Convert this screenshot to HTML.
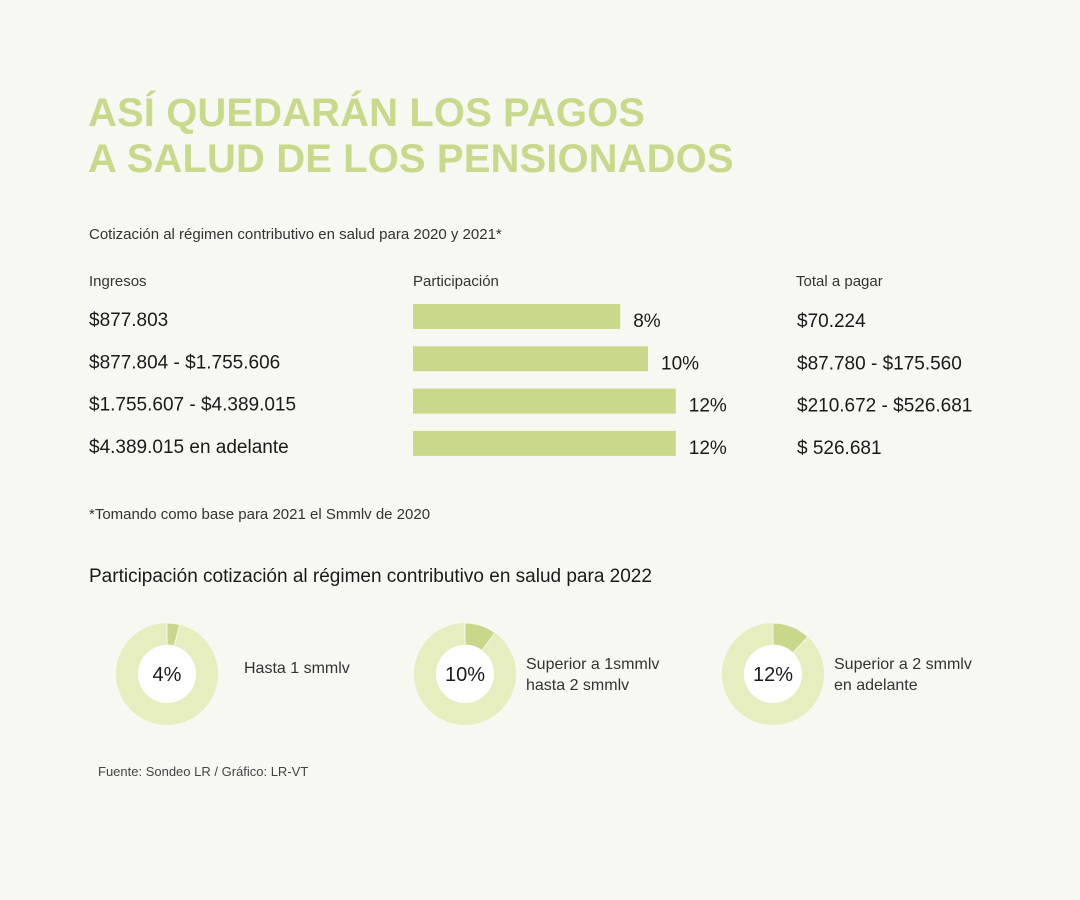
<!DOCTYPE html>
<html><head><meta charset="utf-8"><style>
body{margin:0;background:#f7f8f1;font-family:"Liberation Sans",sans-serif;}
#root{position:relative;width:1080px;height:900px;overflow:hidden;}
.t{position:absolute;white-space:nowrap;color:#1a1a1a;}
</style></head><body><div id="root">
<div class="t" style="left:88px;top:90px;font-size:40px;font-weight:bold;color:#c8d98c;line-height:46px;letter-spacing:0.1px">ASÍ QUEDARÁN LOS PAGOS<br>A SALUD DE LOS PENSIONADOS</div>
<div class="t" style="left:89px;top:226px;font-size:15px;color:#333">Cotización al régimen contributivo en salud para 2020 y 2021*</div>
<div class="t" style="left:89px;top:273px;font-size:15px;color:#333">Ingresos</div>
<div class="t" style="left:413px;top:273px;font-size:15px;color:#333">Participación</div>
<div class="t" style="left:796px;top:273px;font-size:15px;color:#333">Total a pagar</div>
<svg id="bars" width="1080" height="900" style="position:absolute;left:0;top:0"></svg>
<div class="t" style="left:89px;top:506px;font-size:15px;color:#333">*Tomando como base para 2021 el Smmlv de 2020</div>
<div class="t" style="left:89px;top:566px;font-size:19px;color:#1a1a1a">Participación cotización al régimen contributivo en salud para 2022</div>
<svg id="donuts" width="1080" height="900" style="position:absolute;left:0;top:0"></svg>
<div class="t" style="left:98px;top:764px;font-size:13px;color:#444">Fuente: Sondeo LR / Gráfico: LR-VT</div>
</div>
<script>
const incomes=["$877.803","$877.804 - $1.755.606","$1.755.607 - $4.389.015","$4.389.015 en adelante"];
const rates=[8,10,12,12];
const totals=["$70.224","$87.780 - $175.560","$210.672 - $526.681","$ 526.681"];
const donutValues=[4,10,12];
const donutLabels=[["Hasta 1 smmlv"],["Superior a 1smmlv","hasta 2 smmlv"],["Superior a 2 smmlv","en adelante"]];
const NS="http://www.w3.org/2000/svg";
function mk(p,tag,a){const e=document.createElementNS(NS,tag);for(const k in a)e.setAttribute(k,a[k]);p.appendChild(e);return e;}
const bx0=413;
function bw(v){return 96+13.9*v;}
function rowY(i){return 304+i*42.3;}
const bars=document.getElementById('bars');
rates.forEach((v,i)=>{
  const y=rowY(i);
  const r=mk(bars,'rect',{x:bx0,y:y,width:bw(v),height:25,fill:'#cad88c'});
  
  
  const t=mk(bars,'text',{x:bx0+bw(v)+13,y:y+23,'font-size':19,fill:'#1a1a1a','font-family':'Liberation Sans'});
  t.textContent=v+'%';
  
  
  const a=mk(bars,'text',{x:89,y:y+22,'font-size':19,fill:'#1a1a1a','font-family':'Liberation Sans'});
  a.textContent=incomes[i];
  
  
  const b=mk(bars,'text',{x:797,y:y+23,'font-size':19,fill:'#1a1a1a','font-family':'Liberation Sans'});
  b.textContent=totals[i];
  
  
});
const dn=document.getElementById('donuts');
const cx=[167,465,773],cy=674,R=51,r0=29;
donutValues.forEach((v,i)=>{
  const c=cx[i];
  const ring=mk(dn,'circle',{cx:c,cy:cy,r:(R+r0)/2,fill:'none',stroke:'#e6edbf','stroke-width':R-r0});
  
  
  const a=v/100*2*Math.PI;
  const x1=c+R*Math.sin(a),y1=cy-R*Math.cos(a),x2=c+r0*Math.sin(a),y2=cy-r0*Math.cos(a);
  const p=mk(dn,'path',{d:`M${c},${cy-R} A${R},${R} 0 0 1 ${x1},${y1} L${x2},${y2} A${r0},${r0} 0 0 0 ${c},${cy-r0} Z`,fill:'#c9d78b',stroke:'#f7f8f1','stroke-width':1});
  
  
  const w=mk(dn,'circle',{cx:c,cy:cy,r:r0,fill:'#fff'});
  
  
  const t=mk(dn,'text',{x:c,y:cy+7,'text-anchor':'middle','font-size':20,fill:'#1a1a1a','font-family':'Liberation Sans'});
  t.textContent=v+'%';
  
  
  donutLabels[i].forEach((s,j)=>{
    const l=mk(dn,'text',{x:c+(i==0?77:61),y:(i==0?673:669)+j*21,'font-size':16,fill:'#333','font-family':'Liberation Sans'});
    l.textContent=s;
    
    
  });
});
</script></body></html>
